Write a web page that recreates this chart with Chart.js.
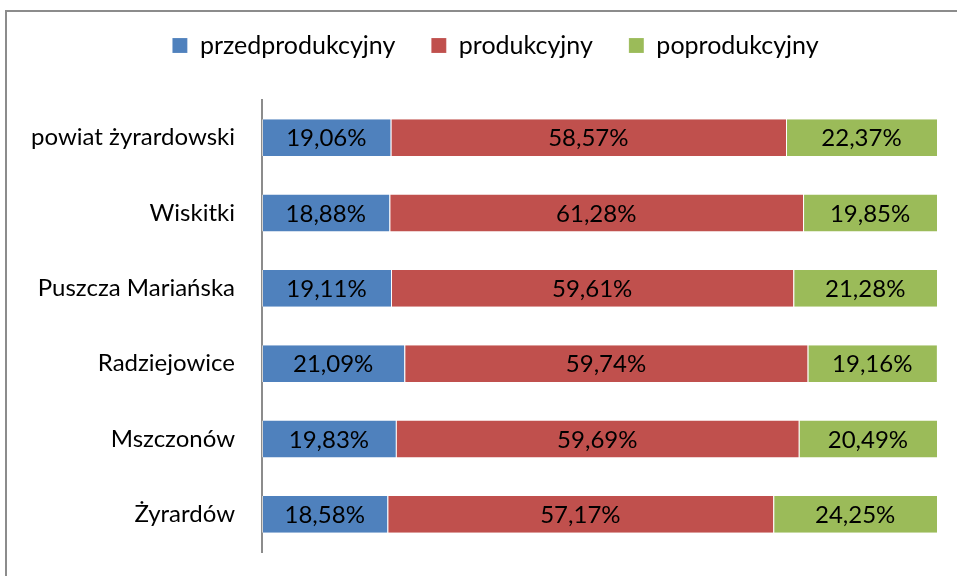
<!DOCTYPE html>
<html>
<head>
<meta charset="utf-8">
<script src="https://cdn.jsdelivr.net/npm/chart.js@4.4.1/dist/chart.umd.min.js"></script>
<style>
  html, body { margin: 0; padding: 0; background: #fff; }
  #wrap { position: relative; width: 957px; height: 576px; overflow: hidden; }
  #frame { position: absolute; left: 5px; top: 10px; width: 1000px; height: 600px;
           border-top: 2px solid #8c8c8c; border-left: 2px solid #8c8c8c; }
  canvas { position: absolute; left: 0; top: 0; }
</style>
</head>
<body>
<div id="wrap">
  <div id="frame"></div>
  <canvas id="grafico" width="957" height="576"></canvas>
</div>
<script>
'use strict';

// Dane
const categories = ['powiat żyrardowski', 'Wiskitki', 'Puszcza Mariańska', 'Radziejowice', 'Mszczonów', 'Żyrardów'];
const przedprodukcyjny = [19.06, 18.88, 19.11, 21.09, 19.83, 18.58];
const produkcyjny = [58.57, 61.28, 59.61, 59.74, 59.69, 57.17];
const poprodukcyjny = [22.37, 19.85, 21.28, 19.16, 20.49, 24.25];

const FONT = "Lato, 'Open Sans', sans-serif";

function fmtPct(v) {
  return v.toFixed(2).replace('.', ',') + '%';
}

// etykiety w środku słupków
const barLabels = {
  id: 'barLabels',
  afterDatasetsDraw(chart) {
    const ctx = chart.ctx;
    ctx.save();
    ctx.font = '24px ' + FONT;
    ctx.fillStyle = '#000';
    ctx.textAlign = 'center';
    ctx.textBaseline = 'middle';
    chart.data.datasets.forEach((ds, i) => {
      chart.getDatasetMeta(i).data.forEach((bar, j) => {
        const x = (bar.x + bar.base) / 2;
        ctx.fillText(fmtPct(ds.data[j]), x, bar.y + 1);
      });
    });
    ctx.restore();
  }
};

// legenda wyżej, większy odstęp do wykresu
const legendBox = {
  id: 'legendBox',
  beforeInit(chart) {
    const fit = chart.legend.fit;
    chart.legend.fit = function () {
      fit.call(this);
      this.height = 100;
    };
  },
  afterLayout(chart) {
    const lg = chart.legend;
    lg.top = -3;
    lg.left += 17;
    lg.right += 17;
  }
};

const ds = (label, data, color) => ({
  label: label,
  data: data,
  backgroundColor: color,
  borderColor: 'rgba(255,255,255,0.6)',
  borderWidth: { left: 1, right: 0, top: 0, bottom: 0 },
  borderSkipped: false,
  barPercentage: 0.49,
  categoryPercentage: 1
});

new Chart(document.getElementById('grafico'), {
  type: 'bar',
  data: {
    labels: categories,
    datasets: [
      ds('przedprodukcyjny', przedprodukcyjny, '#4F81BD'),
      ds('produkcyjny', produkcyjny, '#C0504D'),
      ds('poprodukcyjny', poprodukcyjny, '#9BBB59')
    ]
  },
  options: {
    indexAxis: 'y',
    responsive: false,
    animation: false,
    layout: { padding: { left: 20, right: 20, top: 0, bottom: 24 } },
    plugins: {
      legend: {
        position: 'top',
        labels: {
          color: '#000',
          font: { family: FONT, size: 25 },
          boxWidth: 15, boxHeight: 15,
          padding: 36
        }
      },
      tooltip: { enabled: false }
    },
    scales: {
      x: { stacked: true, min: 0, max: 100, display: false },
      y: {
        stacked: true,
        grid: { display: true, drawOnChartArea: false, drawTicks: true, tickLength: 27, color: 'rgba(0,0,0,0)' },
        border: { display: true, color: '#8c8c8c', width: 2 },
        ticks: { color: '#000', font: { family: FONT, size: 24 }, padding: 0 },
        afterFit(scale) { scale.width = 242; }
      }
    }
  },
  plugins: [barLabels, legendBox]
});
</script>
</body>
</html>
